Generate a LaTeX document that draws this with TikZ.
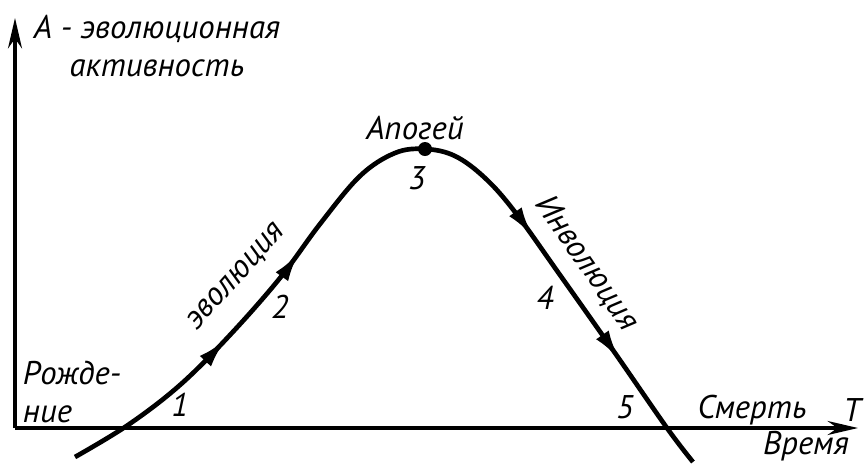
\documentclass[tikz,border=0pt]{standalone}
\usepackage{fontspec}
\setmainfont{PT Sans}
\usetikzlibrary{arrows.meta,decorations.markings}

\tikzset{
	lbl/.style={font=\itshape\fontsize{28}{33}\selectfont, inner sep=1pt},
	tip/.style={-{Stealth[length=26pt,width=12pt]}},
	flow/.style={line width=4pt, postaction={decorate}, decoration={markings,
		mark=at position 0.215 with {\arrow{Latex[length=26pt,width=13pt]}},
		mark=at position 0.342 with {\arrow{Latex[length=26pt,width=13pt]}},
		mark=at position 0.692 with {\arrow{Latex[length=26pt,width=13pt]}},
		mark=at position 0.860 with {\arrow{Latex[length=26pt,width=13pt]}}}},
}

\begin{document}
\begin{tikzpicture}[x=0.03cm, y=-0.03cm]
		\useasboundingbox (0,0) rectangle (864,464);
		
		% оси
		\coordinate (O) at (15,428);
		\coordinate (Ytop) at (15,18);
		\coordinate (Xend) at (858,428);
		\draw[line width=2.6pt, tip] (O) -- (Ytop);
		\draw[line width=2.6pt, tip] (O) -- (Xend);
		
		% кривая
		\draw[flow] plot[smooth, tension=0.6] coordinates {(75,457) (128,425) (180,385) (230,335) (280,278) (320,224) (360,176) (395,153) (425,149) (455,156) (485,178) (515,212) (560,275) (615,353) (667,428) (693,462)};
		\fill (425,149) circle (7);
		
		\node[lbl, align=center] (ylab) at (157,46) {А - эволюционная\\активность};
		\node[lbl, align=left] (birth) at (72,392) {Рожде-\\ние};
		\node[lbl] (n1) at (180,405) {1};
		\node[lbl] (n2) at (280,307) {2};
		\node[lbl, rotate=48] (evo) at (237,277) {эволюция};
		\node[lbl] (apogee) at (415,128) {Апогей};
		\node[lbl] (n3) at (417,178) {3};
		\node[lbl] (n4) at (545,298) {4};
		\node[lbl, rotate=-55] (invo) at (587,263) {Инволюция};
		\node[lbl] (n5) at (625,407) {5};
		\node[lbl] (death) at (752,410) {Смерть};
		\node[lbl] (T) at (852,410) {T};
		\node[lbl] (time) at (806,446) {Время};
	\end{tikzpicture}
\end{document}
